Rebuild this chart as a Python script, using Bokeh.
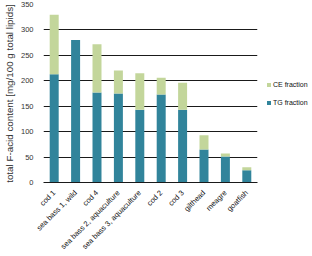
import math
from bokeh.plotting import figure
from bokeh.models import Legend, LegendItem, Range1d, SingleIntervalTicker
from bokeh.embed import file_html
from bokeh.resources import INLINE

categories = ["cod 1", "sea bass 1, wild", "cod 4", "sea bass 2, aquaculture",
              "sea bass 3, aquaculture", "cod 2", "cod 3", "gilthead", "meagre", "goatfish"]
tg_fraction = [213, 280, 177, 175, 143, 173, 143, 65, 51, 24]
ce_fraction = [117, 0, 95, 45, 72, 33, 53, 28, 6, 6]

TG_COLOR = "#31849B"
CE_COLOR = "#C3D69B"
FONT = "Liberation Sans"

src = dict(cat=categories, TG=tg_fraction, CE=ce_fraction)

p = figure(x_range=categories, frame_width=214, frame_height=178, output_backend="svg",
           toolbar_location=None, min_border_left=41, min_border_right=0,
           min_border_top=4, min_border_bottom=74)
p.y_range = Range1d(0, 350)

r = p.vbar_stack(["TG", "CE"], x="cat", width=0.42, color=[TG_COLOR, CE_COLOR],
                 source=src, line_color=None)

p.outline_line_color = None
p.xgrid.grid_line_color = None
p.ygrid.grid_line_color = "#1a1a1a"
p.ygrid.grid_line_width = 1
p.yaxis.ticker = SingleIntervalTicker(interval=50)
p.yaxis.axis_line_color = None
p.yaxis.major_tick_line_color = None
p.yaxis.minor_tick_line_color = None
p.yaxis.major_label_text_font = FONT
p.yaxis.major_label_text_font_size = "7.5px"
p.yaxis.major_label_text_color = "#333333"
p.yaxis.major_label_standoff = 4
p.yaxis.axis_label = "total F-acid content [mg/100 g total lipids]"
p.yaxis.axis_label_text_font = FONT
p.yaxis.axis_label_text_font_style = "normal"
p.yaxis.axis_label_text_font_size = "9.8px"
p.yaxis.axis_label_text_color = "#333333"
p.yaxis.axis_label_standoff = 3

p.xaxis.axis_line_color = "#1a1a1a"
p.xaxis.major_tick_line_color = None
p.xaxis.minor_tick_line_color = None
p.xaxis.major_label_orientation = math.pi / 4
p.xaxis.major_label_text_font = FONT
p.xaxis.major_label_text_font_size = "7.5px"
p.xaxis.major_label_text_color = "#111111"
p.xaxis.major_label_standoff = 3
p.x_range.range_padding = 0.0

legend = Legend(items=[LegendItem(label="CE fraction", renderers=[r[1]]),
                       LegendItem(label="TG fraction", renderers=[r[0]])],
                border_line_color=None, background_fill_alpha=0,
                glyph_width=5, glyph_height=5, label_text_font=FONT,
                label_text_font_size="7px", label_text_color="#111111",
                label_standoff=2, spacing=10, padding=0, margin=9,
                label_height=8, location="left")
p.add_layout(legend, "right")

open("out.html", "w").write(file_html(p, INLINE))
